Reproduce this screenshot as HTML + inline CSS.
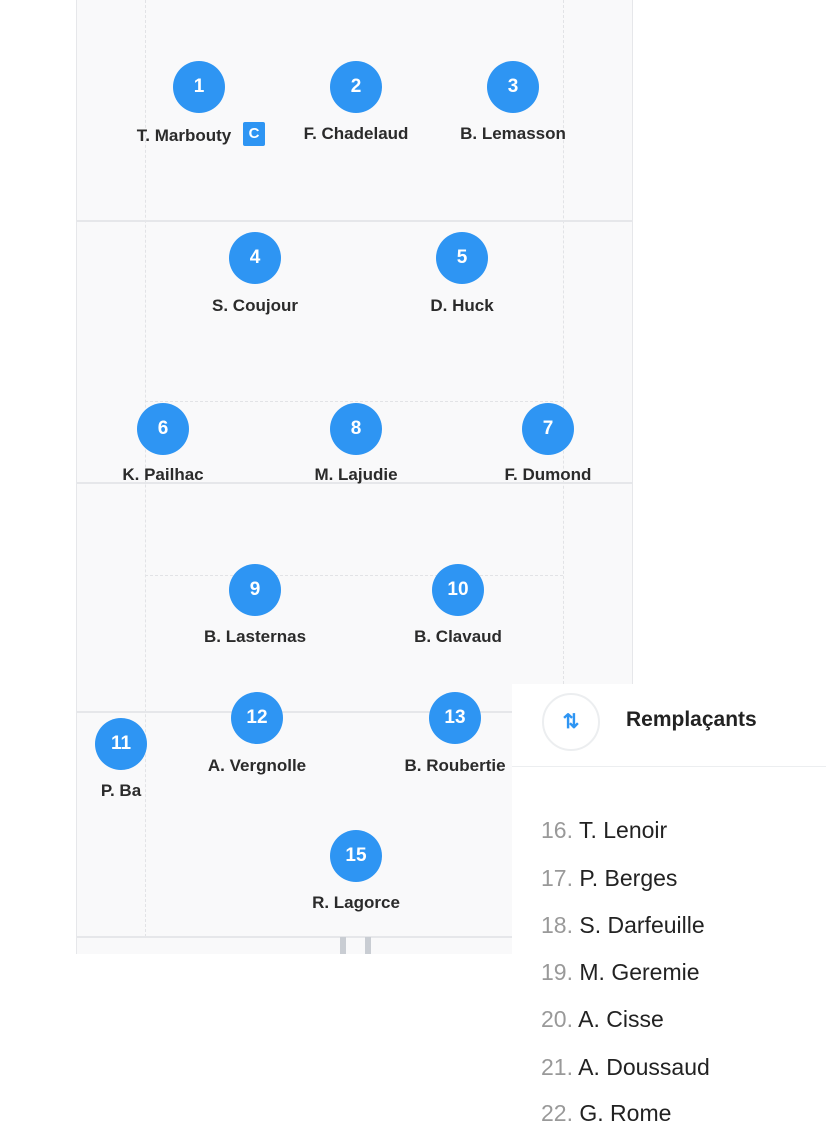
<!DOCTYPE html>
<html><head><meta charset="utf-8"><style>
body{margin:0;width:826px;height:1141px;background:#fff;position:relative;overflow:hidden;font-family:"Liberation Sans",sans-serif}
.a{position:absolute}
.f{left:76px;top:0;width:557px;height:954px;background:#f9f9fa;border-left:1px solid #e6e7ea;border-right:1px solid #e6e7ea;box-sizing:border-box}
.h{height:2px;background:#e6e7ea}
.dv{width:0;border-left:1px dashed #e2e3e6}
.dh{height:0;border-top:1px dashed #e2e3e6}
.c{width:52px;height:52px;border-radius:50%;background:#2e95f3;color:#fff;font-weight:bold;font-size:19px;text-align:center;line-height:52px;margin-left:-26px;margin-top:-26px}
.n{font-weight:bold;font-size:17px;color:#2b2b2b;white-space:nowrap;transform:translateX(-50%);line-height:20px}
.s{left:541px;font-size:23px;color:#222;white-space:nowrap;line-height:26px}
.s b{font-weight:normal;color:#999}
</style></head><body>
<div class="a f"></div>
<div class="a dv" style="left:145px;top:0;height:937px"></div>
<div class="a dv" style="left:563px;top:0;height:684px"></div>
<div class="a dh" style="left:145px;top:401px;width:418px"></div>
<div class="a dh" style="left:145px;top:575px;width:418px"></div>
<div class="a h" style="left:77px;top:220px;width:555px"></div>
<div class="a h" style="left:77px;top:482px;width:555px"></div>
<div class="a h" style="left:77px;top:711px;width:435px"></div>
<div class="a h" style="left:77px;top:936px;width:435px"></div>
<div class="a" style="left:340px;top:937px;width:6px;height:17px;background:#c9cdd3"></div>
<div class="a" style="left:365px;top:937px;width:6px;height:17px;background:#c9cdd3"></div>

<div class="a c" style="left:199px;top:87px">1</div>
<div class="a c" style="left:356px;top:87px">2</div>
<div class="a c" style="left:513px;top:87px">3</div>
<div class="a c" style="left:255px;top:258px">4</div>
<div class="a c" style="left:462px;top:258px">5</div>
<div class="a c" style="left:163px;top:429px">6</div>
<div class="a c" style="left:356px;top:429px">8</div>
<div class="a c" style="left:548px;top:429px">7</div>
<div class="a c" style="left:255px;top:590px">9</div>
<div class="a c" style="left:458px;top:590px">10</div>
<div class="a c" style="left:121px;top:744px">11</div>
<div class="a c" style="left:257px;top:718px">12</div>
<div class="a c" style="left:455px;top:718px">13</div>
<div class="a c" style="left:356px;top:856px">15</div>

<div class="a n" style="left:184px;top:126px">T. Marbouty</div>
<div class="a" style="left:243px;top:122px;width:22px;height:24px;background:#2e95f3;color:#fff;font-weight:bold;font-size:15px;text-align:center;line-height:24px;border-radius:2px">C</div>
<div class="a n" style="left:356px;top:124px">F. Chadelaud</div>
<div class="a n" style="left:513px;top:124px">B. Lemasson</div>
<div class="a n" style="left:255px;top:296px">S. Coujour</div>
<div class="a n" style="left:462px;top:296px">D. Huck</div>
<div class="a n" style="left:163px;top:465px">K. Pailhac</div>
<div class="a n" style="left:356px;top:465px">M. Lajudie</div>
<div class="a n" style="left:548px;top:465px">F. Dumond</div>
<div class="a n" style="left:255px;top:627px">B. Lasternas</div>
<div class="a n" style="left:458px;top:627px">B. Clavaud</div>
<div class="a n" style="left:121px;top:781px">P. Ba</div>
<div class="a n" style="left:257px;top:756px">A. Vergnolle</div>
<div class="a n" style="left:455px;top:756px">B. Roubertie</div>
<div class="a n" style="left:356px;top:893px">R. Lagorce</div>

<div class="a" style="left:512px;top:684px;width:314px;height:457px;background:#fff"></div>
<div class="a h" style="left:512px;top:766px;width:314px;height:1px;background:#eceef0"></div>
<div class="a" style="left:542px;top:693px;width:54px;height:54px;border:2px solid #eceef0;border-radius:50%;color:#2e95f3;text-align:center;line-height:54px;font-size:20px;font-weight:bold">⇅</div>
<div class="a" style="left:626px;top:708px;font-weight:bold;font-size:21px;color:#222">Remplaçants</div>
<div class="a s" style="top:817px"><b>16.</b> T. Lenoir</div>
<div class="a s" style="top:865px"><b>17.</b> P. Berges</div>
<div class="a s" style="top:912px"><b>18.</b> S. Darfeuille</div>
<div class="a s" style="top:959px"><b>19.</b> M. Geremie</div>
<div class="a s" style="top:1006px"><b>20.</b> A. Cisse</div>
<div class="a s" style="top:1054px"><b>21.</b> A. Doussaud</div>
<div class="a s" style="top:1100px"><b>22.</b> G. Rome</div>
</body></html>
